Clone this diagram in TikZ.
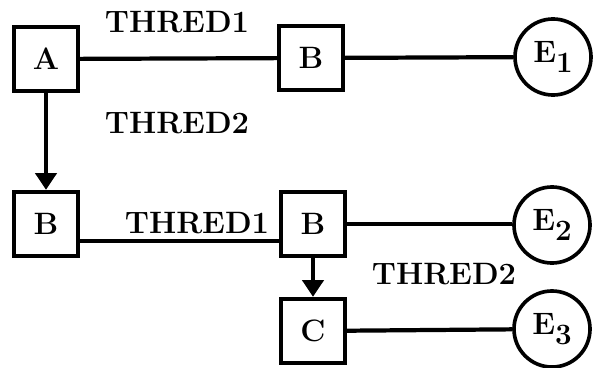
\documentclass[tikz,border=0pt]{standalone}
\usepackage{fontspec}
\usepackage{tikz}
\usetikzlibrary{positioning,arrows.meta}
\newcommand{\sbs}[1]{\raisebox{-0.75ex}{\fontsize{21}{22}\selectfont #1}}

\begin{document}
\begin{tikzpicture}[
  x=0.025cm, y=-0.025cm,
  every node/.style={font=\fontsize{22}{26}\selectfont\bfseries},
  box/.style={draw,line width=3pt,minimum size=1.6cm,inner sep=0pt},
  ende/.style={draw,circle,line width=2.6pt,minimum size=1.9cm,inner sep=0pt},
  lbl/.style={inner sep=0pt},
  line width=3pt,
  >={Triangle[width=15pt,length=12pt]}
]
  \useasboundingbox (0,0) rectangle (593,368);

  \node[box] (a)  at ( 46, 59) {A};
  \node[box] (b1) at (311, 58) {B};
  \node[ende] (e1) at (553, 57) {E\sbs{1}};

  \node[box] (b2) at ( 46,224) {B};
  \node[box] (b3) at (313,224) {B};
  \node[ende] (e2) at (552,225) {E\sbs{2}};

  \node[box] (c)  at (313,331) {C};
  \node[ende] (e3) at (552,329) {E\sbs{3}};

  \node[lbl] (t1)  at (177, 22) {THRED1};
  \node[lbl] (t2)  at (177,123) {THRED2};
  \node[lbl] (t3)  at (197,223) {THRED1};
  \node[lbl] (t4)  at (444,274) {THRED2};

  \draw (a) -- (b1);
  \draw (b1) -- (e1);
  \draw[->] (a) -- (b2);
  \draw ([yshift=-0.42cm]b2.east) -- ([yshift=-0.42cm]b3.west);
  \draw (b3.east) -- (e2.west |- b3.east);
  \draw[->] (b3) -- (c);
  \draw (c) -- (e3);
\end{tikzpicture}
\end{document}
